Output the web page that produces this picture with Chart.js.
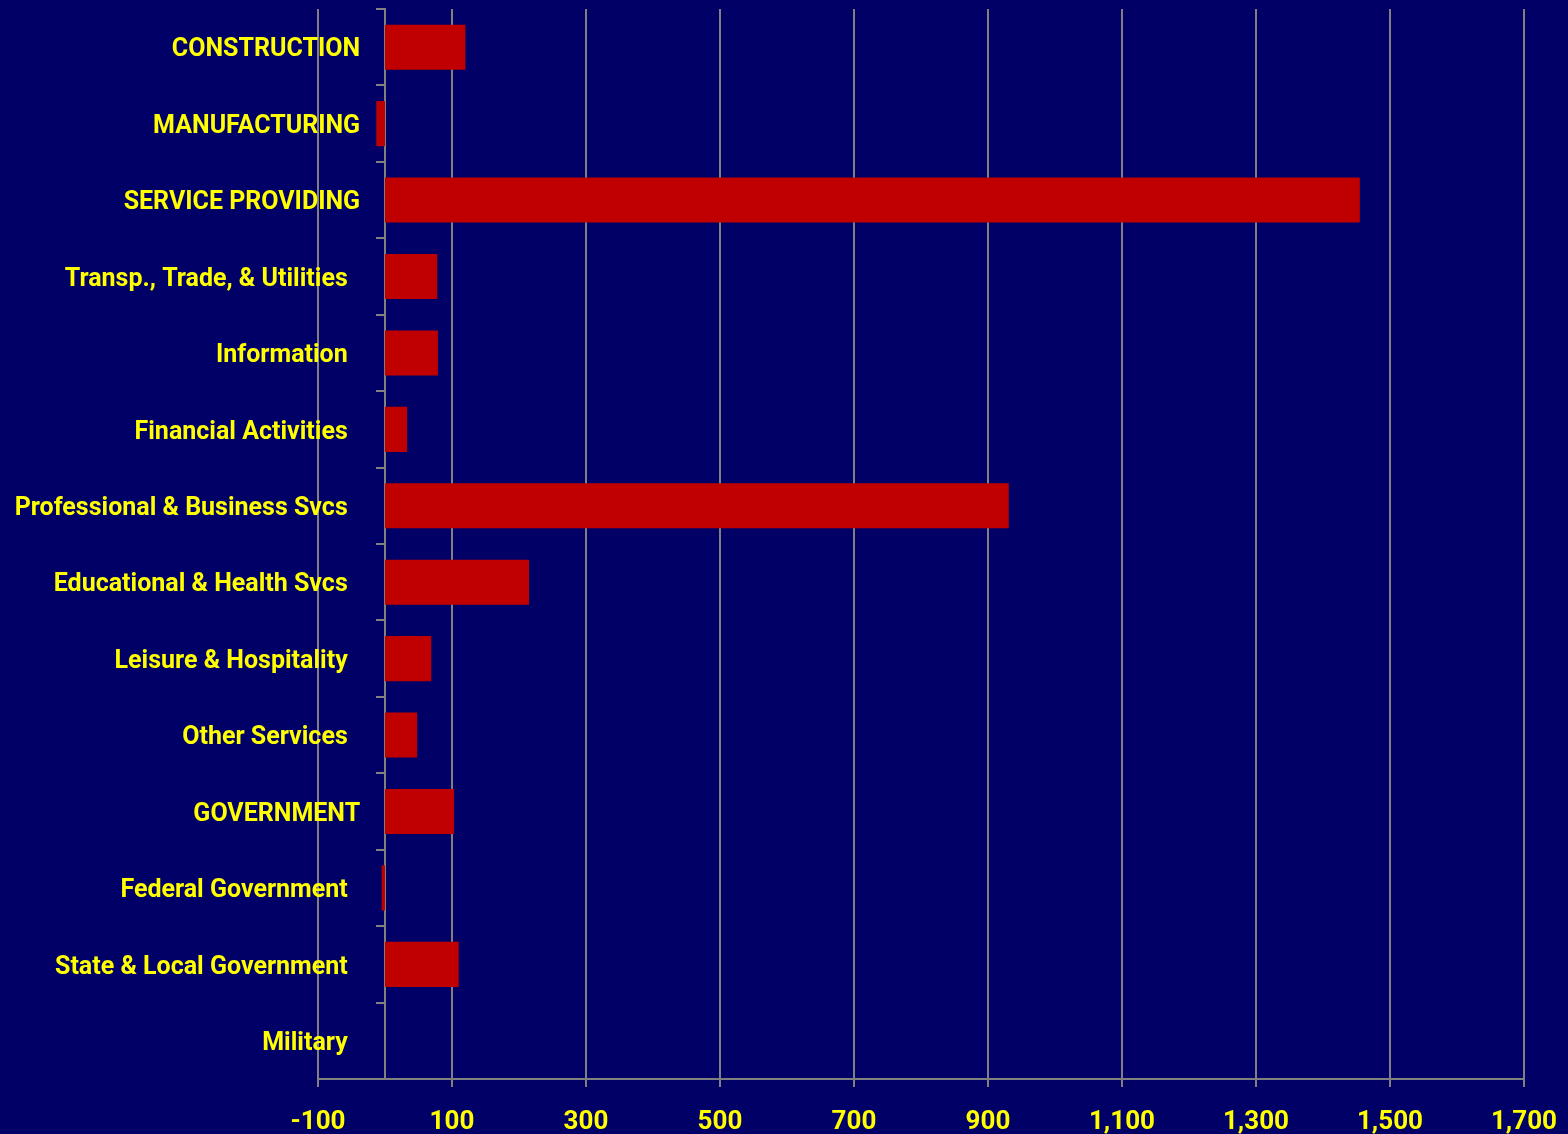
<!DOCTYPE html>
<html>
<head>
<meta charset="utf-8">
<script src="https://cdn.jsdelivr.net/npm/chart.js@4"></script>
<style>
  html, body { margin: 0; padding: 0; background: #000066; }
  #wrap { width: 1568px; height: 1134px; }
</style>
</head>
<body>
<div id="wrap"><canvas id="chart-jobs" width="1568" height="1134"></canvas></div>
<script>
/* Job change by sector (thousands) */
/* trailing spaces keep the sub-sector labels indented like the original */
var categories = [
  'CONSTRUCTION',
  'MANUFACTURING',
  'SERVICE PROVIDING',
  'Transp., Trade, & Utilities  ',
  'Information  ',
  'Financial Activities  ',
  'Professional & Business Svcs  ',
  'Educational & Health Svcs  ',
  'Leisure & Hospitality  ',
  'Other Services  ',
  'GOVERNMENT',
  'Federal Government  ',
  'State & Local Government  ',
  'Military  '
];
var changes = [120, -13, 1455, 78, 79, 33, 931, 215, 69, 48, 103, -5, 110, 0];
var xTicks = [-100, 100, 300, 500, 700, 900, 1100, 1300, 1500, 1700];

var COLOURS = {
  background: '#000066',
  bar: '#C00000',
  grid: '#808080',
  text: '#FFFF00'
};
var FAMILY = "Roboto, 'Liberation Sans', sans-serif";

/* paint the navy background behind everything */
var backgroundPlugin = {
  id: 'background',
  beforeDraw: function(chart) {
    var c = chart.ctx;
    c.save();
    c.fillStyle = COLOURS.background;
    c.fillRect(0, 0, chart.width, chart.height);
    c.restore();
  }
};

new Chart(document.getElementById('chart-jobs'), {
  type: 'bar',
  data: {
    labels: categories,
    datasets: [{
      data: changes,
      backgroundColor: COLOURS.bar,
      borderWidth: 0,
      categoryPercentage: 1,
      barPercentage: 0.59
    }]
  },
  plugins: [backgroundPlugin],
  options: {
    indexAxis: 'y',
    responsive: false,
    animation: false,
    devicePixelRatio: 1,
    /* negative bottom padding: the axis labels sit close to the page edge */
    layout: { padding: { left: 318, right: 42, top: 9, bottom: -23 } },
    plugins: {
      legend: { display: false },
      tooltip: { enabled: false }
    },
    scales: {
      x: {
        min: -100,
        max: 1700,
        afterBuildTicks: function(scale) {
          scale.ticks = xTicks.map(function(v) { return { value: v }; });
        },
        grid: { color: COLOURS.grid, lineWidth: 2, tickLength: 8 },
        border: { color: COLOURS.grid, width: 2 },
        ticks: {
          color: COLOURS.text,
          font: { family: FAMILY, size: 26, weight: 'bold', lineHeight: 1.846 },
          padding: 11,
          maxRotation: 0,
          callback: function(v) { return Number(v).toLocaleString('en-US'); }
        }
      },
      y: {
        type: 'category',
        position: { x: 0 },
        grid: {
          offset: true,
          drawOnChartArea: false,
          color: COLOURS.grid,
          lineWidth: 2,
          tickLength: 8
        },
        border: { color: COLOURS.grid, width: 2 },
        ticks: {
          color: COLOURS.text,
          font: { family: FAMILY, size: 25, weight: 'bold', lineHeight: 0.7 },
          padding: 0,
          labelOffset: 3,
          autoSkip: false,
          /* labels hang left of the zero line; spaces give the gap */
          callback: function(v) { return this.getLabelForValue(v) + '    '; }
        }
      }
    }
  }
});
</script>
</body>
</html>
